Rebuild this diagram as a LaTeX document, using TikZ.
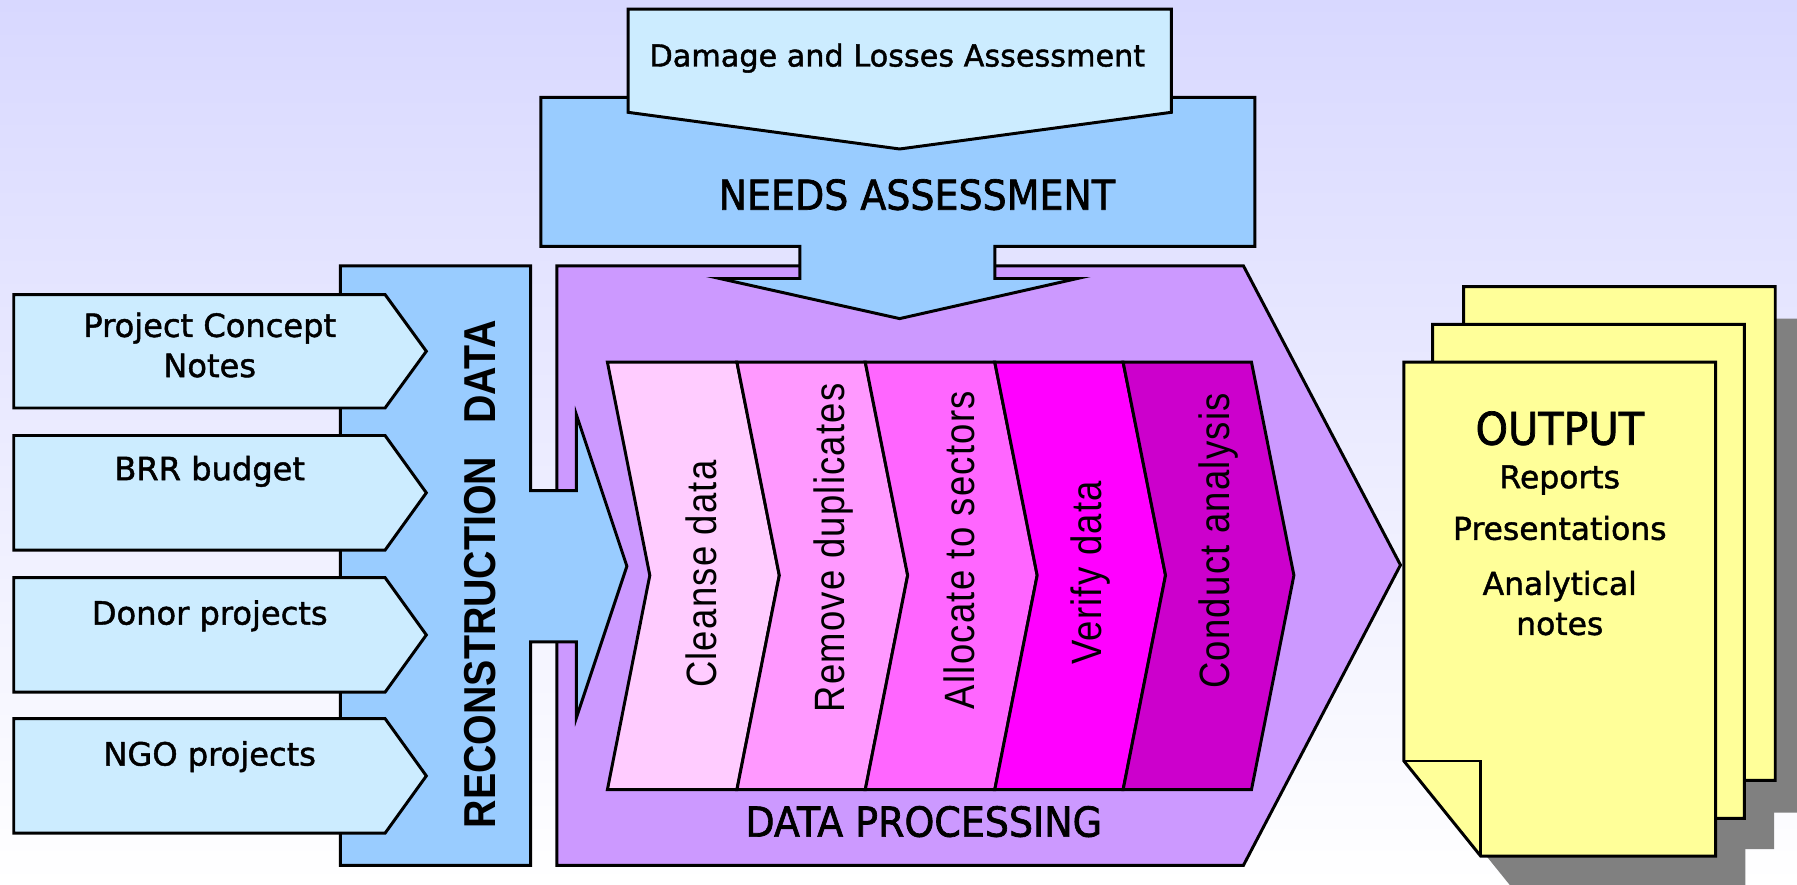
\documentclass[tikz,border=0pt]{standalone}
\usepackage{fontspec}
\setmainfont[FakeBold=1.4]{DejaVu Sans}
\newfontfamily\headfont[FakeStretch=0.92,FakeBold=1.6]{DejaVu Sans}
\newfontfamily\vertfont[FakeStretch=0.86,LetterSpace=3]{Liberation Sans}
\newfontfamily\recfont[FakeStretch=0.88]{Liberation Sans}
\definecolor{lcyan}{HTML}{CCECFF}
\definecolor{mblue}{HTML}{99CCFF}
\definecolor{lpurple}{HTML}{CC99FF}
\definecolor{chA}{HTML}{FFCCFF}
\definecolor{chB}{HTML}{FF99FF}
\definecolor{chC}{HTML}{FF66FF}
\definecolor{chD}{HTML}{FF00FF}
\definecolor{chE}{HTML}{CC00CC}
\definecolor{pageyellow}{HTML}{FFFF99}
\definecolor{shadowgray}{HTML}{808080}
\definecolor{bgtop}{RGB}{216,216,255}
\tikzset{
  shapeline/.style={draw=black, line width=1.3pt, line join=miter},
  boxtext/.style={anchor=base, inner sep=0pt, font=\fontsize{14pt}{17pt}\selectfont},
  headtext/.style={anchor=base, inner sep=0pt, font=\headfont\fontsize{18pt}{21pt}\selectfont},
  verttext/.style={anchor=base, inner sep=0pt, rotate=90, font=\vertfont\fontsize{18.5pt}{22pt}\selectfont},
  outtext/.style={anchor=base, inner sep=0pt, font=\fontsize{13.7pt}{16pt}\selectfont},
  pageshape/.pic={\path[pic actions] (0,0) -- (272,0) -- (272,431) -- (67,431) -- (0,348) -- cycle;},
}
\begin{document}
\begin{tikzpicture}[x=0.5pt, y=-0.5pt]
\useasboundingbox (0,0) rectangle (1568,772);
% background
\shade[top color=bgtop, bottom color=white] (0,0) rectangle (1568,772);

% data processing arrow
\path[shapeline, fill=lpurple] (486,232) -- (1085,232) -- (1222,493) -- (1085,755) -- (486,755) -- cycle;

% chevrons
\foreach \xa/\xb/\col in {530/643/chA, 643/755/chB, 755/868/chC, 868/980/chD, 980/1092/chE}{
  \path[shapeline, fill=\col] (\xa,316) -- (\xb,316) -- (\xb+37,502) -- (\xb,689) -- (\xa,689) -- (\xa+37,502) -- cycle;
}

% needs assessment
\path[shapeline, fill=mblue] (472,85) -- (1095,85) -- (1095,215) -- (868,215) -- (868,243) -- (940,243) -- (785,278) -- (628,243) -- (698,243) -- (698,215) -- (472,215) -- cycle;

% damage and losses
\path[shapeline, fill=lcyan] (548,8) -- (1022,8) -- (1022,98) -- (785,130) -- (548,98) -- cycle;

% reconstruction data
\path[shapeline, fill=mblue] (297,232) -- (463,232) -- (463,428) -- (503,428) -- (503,362) -- (547,494) -- (503,626) -- (503,560) -- (463,560) -- (463,755) -- (297,755) -- cycle;

% input boxes
\foreach \ya/\yb in {257/356, 380/480, 504/604, 627/727}{
  \path[shapeline, fill=lcyan] (12,\ya) -- (336,\ya) -- (372,{(\ya+\yb)/2}) -- (336,\yb) -- (12,\yb) -- cycle;
}

% output pages: shadows
\foreach \px/\py in {1303/278, 1276/310, 1251/342}{
  \path[fill=shadowgray] (\px,\py) -- ++(272,0) -- ++(0,431) -- ++(-205,0) -- ++(-67,-83) -- cycle;
}
% pages
\foreach \px/\py in {1277/250, 1250/283, 1225/316}{
  \path[shapeline, fill=pageyellow] (\px,\py) -- ++(272,0) -- ++(0,431) -- ++(-205,0) -- ++(-67,-83) -- cycle;
}
\draw[shapeline] (1225,664) -- (1292,664) -- (1292,747);

% texts
\node[boxtext, font=\fontsize{13.2pt}{16pt}\selectfont] (dla) at (783,58) {Damage and Losses Assessment};
\node[headtext] (needs) at (800,183) {NEEDS ASSESSMENT};
\node[headtext] (dproc) at (806,730) {DATA PROCESSING};
\node[anchor=base, inner sep=0pt, rotate=90, font=\recfont\bfseries\fontsize{19.5pt}{22pt}\selectfont] (recon) at (432,501) {RECONSTRUCTION\hspace{0.5em} DATA};

\node[boxtext] (pcn1) at (183,294) {Project Concept};
\node[boxtext] (pcn2) at (183,329) {Notes};
\node[boxtext] (brr) at (183,419) {BRR budget};
\node[boxtext] (donor) at (183,545) {Donor projects};
\node[boxtext] (ngo) at (183,668) {NGO projects};

\node[verttext] (s1) at (625,501) {Cleanse data};
\node[verttext] (s2) at (737,478) {Remove duplicates};
\node[verttext] (s3) at (850,480) {Allocate to sectors};
\node[verttext] (s4) at (961,500) {Verify data};
\node[verttext] (s5) at (1073,472) {Conduct analysis};

\node[anchor=base, inner sep=0pt, font=\headfont\fontsize{19.6pt}{23pt}\selectfont] (out) at (1361,388) {OUTPUT};
\node[outtext] (rep) at (1361,426) {Reports};
\node[outtext] (pres) at (1361,471) {Presentations};
\node[outtext] (ana) at (1361,519) {Analytical};
\node[outtext] (notes) at (1361,554) {notes};
\end{tikzpicture}
\end{document}
